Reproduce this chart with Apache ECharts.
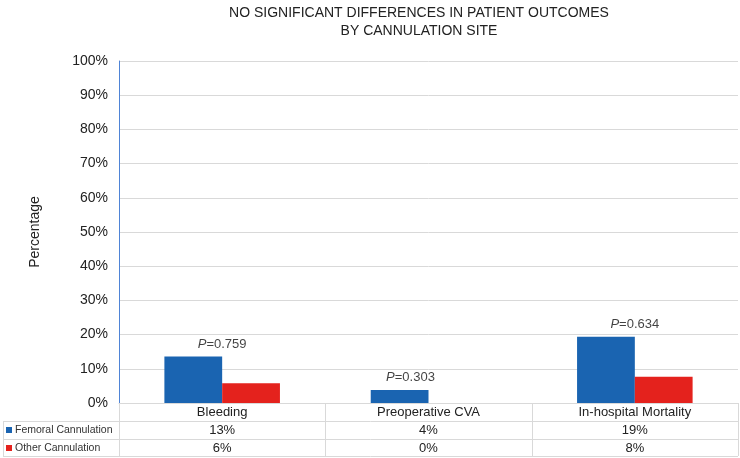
<!DOCTYPE html>
<html>
<head>
<meta charset="utf-8">
<script src="https://cdn.jsdelivr.net/npm/echarts@6/dist/echarts.min.js"></script>
<style>html,body{margin:0;padding:0;background:#fff}#c{width:740px;height:458px}</style>
</head>
<body>
<div id="c"></div>
<script>
var categories = ['Bleeding', 'Preoperative CVA', 'In-hospital Mortality'];
var seriesNames = ['Femoral Cannulation', 'Other Cannulation'];
var femoral = [13.6, 3.8, 19.4];
var other = [5.8, 0, 7.7];
var femoralTable = ['13%', '4%', '19%'];
var otherTable = ['6%', '0%', '8%'];
var pValues = ['0.759', '0.303', '0.634'];
var yTicks = [0, 10, 20, 30, 40, 50, 60, 70, 80, 90, 100];

var FONT = '"Liberation Sans", Arial, Helvetica, sans-serif';
var BLUE = '#1a64b1', RED = '#e4221d', LINE = '#d9d9d9';
var COLORS = [BLUE, RED];
var G = {left: 119, right: 2, top: 61, bottom: 55};

var chart = echarts.init(document.getElementById('c'), null, {renderer: 'canvas'});

var pData = categories.map(function (c, i) {
  var d = {value: [i, Math.max(femoral[i], other[i])], p: pValues[i]};
  if (i === 1) d.label = {offset: [-18, 0]};
  return d;
});

var option = {
  animation: false,
  backgroundColor: '#fff',
  title: {
    text: 'NO SIGNIFICANT DIFFERENCES IN PATIENT OUTCOMES\nBY CANNULATION SITE',
    left: 414, top: -1, textAlign: 'center',
    textStyle: {fontFamily: FONT, fontSize: 14, fontWeight: 'normal', color: '#222', lineHeight: 18}
  },
  grid: G,
  xAxis: {
    type: 'category', data: categories,
    axisLine: {show: true, lineStyle: {color: LINE}},
    axisTick: {show: false},
    splitLine: {show: false},
    axisLabel: {
      margin: 0, interval: 0,
      formatter: function (v, i) {
        return '{c|' + v + '}\n{v|' + femoralTable[i] + '}\n{v|' + otherTable[i] + '}';
      },
      rich: {
        c: {fontFamily: FONT, fontSize: 13, color: '#222', lineHeight: 18, height: 18},
        v: {fontFamily: FONT, fontSize: 13, color: '#222', lineHeight: 18, height: 18}
      }
    }
  },
  yAxis: {
    type: 'value', min: yTicks[0], max: yTicks[yTicks.length - 1], interval: 10,
    name: 'Percentage', nameLocation: 'middle', nameGap: 77,
    nameTextStyle: {fontFamily: FONT, fontSize: 14, color: '#222'},
    axisLine: {show: true, lineStyle: {color: '#4f84d6', width: 1}},
    axisTick: {show: false},
    axisLabel: {formatter: '{value}%', fontFamily: FONT, fontSize: 14, color: '#222', margin: 11},
    splitLine: {lineStyle: {color: LINE}}
  },
  series: [
    {name: seriesNames[0], type: 'bar', data: femoral, barWidth: '28%', barGap: '0%',
     itemStyle: {color: BLUE}},
    {name: seriesNames[1], type: 'bar', data: other, barWidth: '28%', barGap: '0%',
     itemStyle: {color: RED}},
    {type: 'scatter', data: pData, symbolSize: 0, silent: true,
     label: {
       show: true, position: 'top', distance: 6, color: '#111', textBorderWidth: 0,
       formatter: function (p) { return '{i|P}{n|=' + p.data.p + '}'; },
       rich: {
         i: {fontFamily: FONT, fontSize: 13, fontStyle: 'italic', color: '#111'},
         n: {fontFamily: FONT, fontSize: 13, color: '#111'}
       }
     }}
  ]
};
chart.setOption(option);

// table grid lines and row legend
var W = 740, H = 458;
var x0 = G.left, x1 = W - G.right, yAxisBottom = H - G.bottom;
var rowH = 18;
var xs = [x0];
for (var i = 0; i < categories.length; i++) {
  var c = chart.convertToPixel({xAxisIndex: 0}, categories[i]);
  var half = (x1 - x0) / categories.length / 2;
  xs.push(c + half);
}
var els = [];
function ln(a, b, c, d) {
  els.push({type: 'line', shape: {x1: a, y1: b, x2: c, y2: d}, style: {stroke: LINE, lineWidth: 1}, silent: true});
}
var r1 = yAxisBottom + rowH, r2 = r1 + rowH, r3 = r2 + rowH - 1;
ln(3, r1 + 0.5, x1, r1 + 0.5);
ln(3, r2 + 0.5, x1, r2 + 0.5);
ln(3, r3 + 0.5, x1, r3 + 0.5);
ln(3.5, r1, 3.5, r3);
xs.forEach(function (x) { ln(Math.round(x) + 0.5, yAxisBottom, Math.round(x) + 0.5, r3); });
seriesNames.forEach(function (n, k) {
  var cy = r1 + rowH * k + rowH / 2;
  els.push({type: 'rect', shape: {x: 6, y: Math.round(cy) - 3, width: 6, height: 6}, style: {fill: COLORS[k]}, silent: true});
  els.push({type: 'text', x: 15, y: cy, style: {text: n, font: '10.5px ' + FONT, fill: '#333', textVerticalAlign: 'middle', verticalAlign: 'middle'}, silent: true});
});
chart.setOption({graphic: els});
</script>
</body>
</html>
